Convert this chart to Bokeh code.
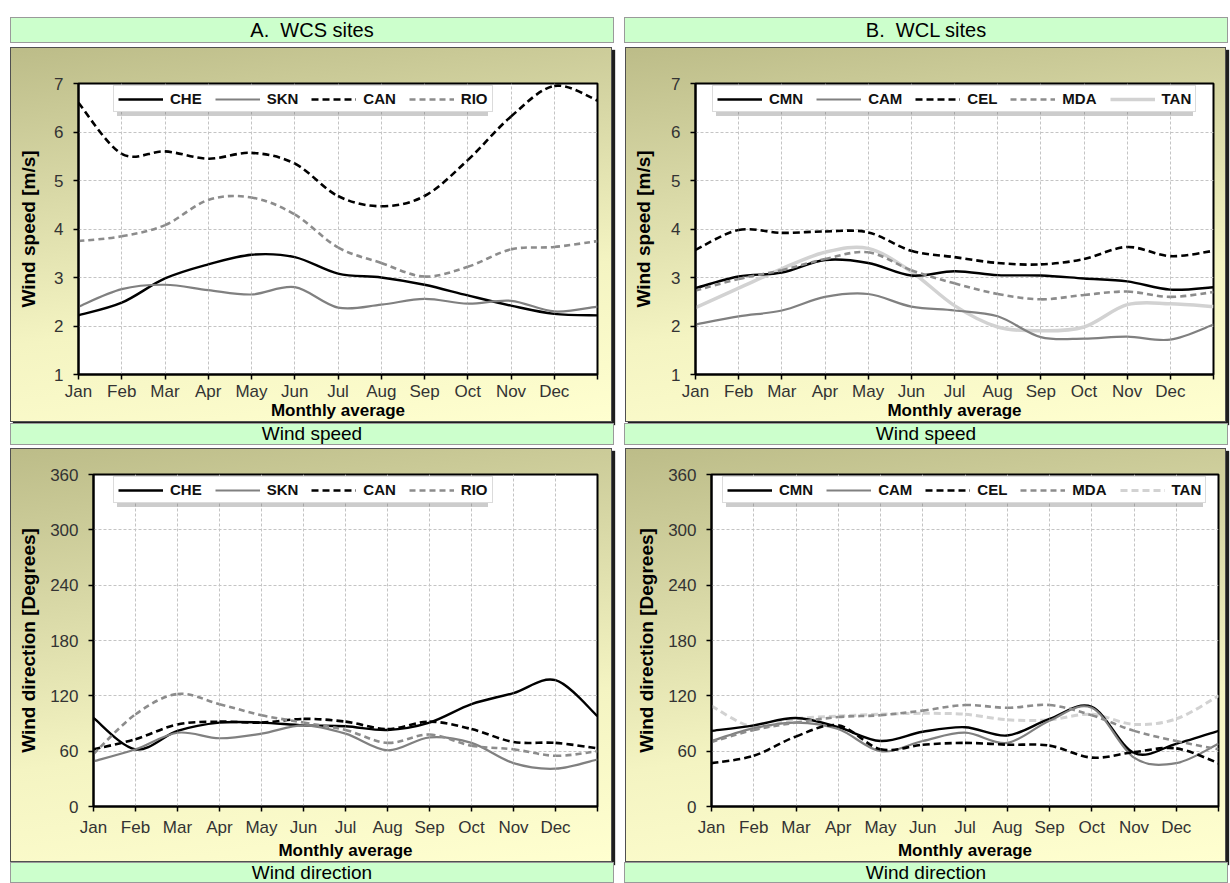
from bokeh.plotting import figure
from bokeh.layouts import column, row
from bokeh.models import Div, Legend, LegendItem, FixedTicker, Range1d, ColumnDataSource
from bokeh.embed import file_html
from bokeh.resources import INLINE

# ---------------------------------------------------------------- data
MONTHS = ["Jan", "Feb", "Mar", "Apr", "May", "Jun",
          "Jul", "Aug", "Sep", "Oct", "Nov", "Dec"]
# month positions on the x axis; the 13th point closes the year (January again)
MONTH_POS = list(range(13))

# monthly mean wind speed [m/s] - WCS sites
che_speed = [2.22, 2.48, 2.98, 3.27, 3.47, 3.42, 3.08, 3.00, 2.85, 2.63, 2.42, 2.25, 2.22]
skn_speed = [2.40, 2.76, 2.85, 2.74, 2.65, 2.80, 2.38, 2.44, 2.56, 2.46, 2.52, 2.30, 2.40]
can_speed = [6.60, 5.55, 5.60, 5.45, 5.57, 5.35, 4.68, 4.47, 4.68, 5.42, 6.32, 6.95, 6.65]
rio_speed = [3.75, 3.85, 4.08, 4.60, 4.65, 4.30, 3.62, 3.30, 3.02, 3.22, 3.58, 3.63, 3.75]

# monthly mean wind speed [m/s] - WCL sites
cmn_speed = [2.78, 3.02, 3.10, 3.36, 3.30, 3.04, 3.13, 3.05, 3.04, 2.98, 2.92, 2.75, 2.80]
cam_speed = [2.03, 2.20, 2.32, 2.60, 2.66, 2.40, 2.32, 2.20, 1.77, 1.74, 1.78, 1.72, 2.03]
cel_speed = [3.57, 3.98, 3.92, 3.95, 3.93, 3.55, 3.42, 3.30, 3.27, 3.38, 3.63, 3.44, 3.55]
mda_speed = [2.73, 2.97, 3.15, 3.38, 3.52, 3.15, 2.88, 2.66, 2.55, 2.64, 2.71, 2.60, 2.70]
tan_speed = [2.38, 2.78, 3.18, 3.52, 3.60, 3.12, 2.42, 1.98, 1.90, 1.98, 2.44, 2.46, 2.40]

# monthly mean wind direction [degrees] - WCS sites
che_dir = [96, 62, 82, 91, 91, 88, 87, 83, 91, 111, 123, 137, 98]
skn_dir = [49, 62, 80, 74, 79, 88, 79, 61, 75, 69, 47, 41, 51]
can_dir = [62, 73, 89, 92, 91, 95, 92, 84, 92, 84, 70, 69, 63]
rio_dir = [57, 100, 122, 111, 99, 91, 83, 69, 78, 66, 62, 55, 60]

# monthly mean wind direction [degrees] - WCL sites
cmn_dir = [82, 88, 96, 86, 71, 81, 86, 77, 95, 108, 58, 68, 82]
cam_dir = [71, 85, 91, 84, 60, 71, 80, 69, 93, 107, 53, 47, 68]
cel_dir = [47, 55, 76, 88, 62, 67, 69, 67, 66, 53, 59, 63, 47]
mda_dir = [70, 83, 91, 97, 99, 104, 110, 107, 110, 99, 82, 71, 62]
tan_dir = [109, 86, 95, 98, 100, 101, 100, 94, 94, 100, 89, 95, 120]

SPEED_TICKS = [1, 2, 3, 4, 5, 6, 7]
DIR_TICKS = [0, 60, 120, 180, 240, 300, 360]

# ---------------------------------------------------------------- styles
LINE_STYLE = {
    "CHE": dict(color="#000000", width=2.4, dash="solid"),
    "SKN": dict(color="#808080", width=2.2, dash="solid"),
    "CAN": dict(color="#000000", width=2.6, dash="7 4"),
    "RIO": dict(color="#8c8c8c", width=2.6, dash="6 4"),
    "CMN": dict(color="#000000", width=2.4, dash="solid"),
    "CAM": dict(color="#808080", width=2.2, dash="solid"),
    "CEL": dict(color="#000000", width=2.6, dash="7 4"),
    "MDA": dict(color="#8c8c8c", width=2.6, dash="6 4"),
    "TAN": dict(color="#d2d2d2", width=3.5, dash="solid"),
}
TAN_DIR_STYLE = dict(color="#d2d2d2", width=3.0, dash="7 4")

FONT = "Liberation Sans"


def band_style(size_px, h):
    return {
        "background-color": "#ccffcc",
        "box-shadow": "inset 0 0 0 1px #9a9a9a",
        "font-family": "Liberation Sans, Arial, sans-serif",
        "font-size": f"{size_px}px",
        "color": "#000000",
        "text-align": "center",
        "line-height": f"{h}px",
        "overflow": "hidden",
    }


CHART_STYLE = {
    "background": "linear-gradient(172deg, #bcbc88 0%, #d6d6a4 30%, #f4f4c2 65%, #ffffd0 100%)",
    "box-shadow": "inset 0 0 0 1px #505050, 3px 3px 1px #1e1e1e",
}

LEGEND_KW = dict(orientation="horizontal", glyph_width=45, glyph_height=16, label_height=16,
                 label_standoff=7, spacing=13, padding=4, margin=0,
                 label_text_font=FONT, label_text_font_size="15px",
                 label_text_font_style="bold")


def smooth_segments(xs, ys):
    """Cubic Bezier pieces through the monthly points (smoothed-line look)."""
    n = len(xs)
    seg = {k: [] for k in ("x0", "y0", "x1", "y1", "cx0", "cy0", "cx1", "cy1")}
    for i in range(n - 1):
        xp, yp = (xs[i - 1], ys[i - 1]) if i > 0 else (xs[i], ys[i])
        xn, yn = (xs[i + 2], ys[i + 2]) if i + 2 < n else (xs[i + 1], ys[i + 1])
        seg["x0"].append(xs[i]); seg["y0"].append(ys[i])
        seg["x1"].append(xs[i + 1]); seg["y1"].append(ys[i + 1])
        seg["cx0"].append(xs[i] + (xs[i + 1] - xp) / 6.0)
        seg["cy0"].append(ys[i] + (ys[i + 1] - yp) / 6.0)
        seg["cx1"].append(xs[i + 1] - (xn - xs[i]) / 6.0)
        seg["cy1"].append(ys[i + 1] - (yn - ys[i]) / 6.0)
    return seg


def make_chart(series, styles, y_lo, y_hi, y_ticks, y_title, width, height,
               borders, legend_offset, y_title_standoff, x_standoffs,
               shadow_label_width, first_drawn=None):
    left, right, top, bottom = borders
    p = figure(width=width, height=height, output_backend="svg", toolbar_location=None,
               x_range=Range1d(0, 12), y_range=Range1d(y_lo, y_hi),
               min_border_left=left, min_border_right=right,
               min_border_top=top, min_border_bottom=bottom,
               styles=CHART_STYLE)
    p.border_fill_alpha = 0
    p.background_fill_color = "#ffffff"
    p.outline_line_color = "#000000"
    p.outline_line_width = 2

    p.xaxis.ticker = FixedTicker(ticks=MONTH_POS)
    p.xaxis.major_label_overrides = {i: (MONTHS[i] if i < 12 else "") for i in MONTH_POS}
    p.yaxis.ticker = FixedTicker(ticks=y_ticks)
    p.xgrid.ticker = FixedTicker(ticks=MONTH_POS)
    p.ygrid.ticker = FixedTicker(ticks=y_ticks)
    for g in (p.xgrid, p.ygrid):
        g.grid_line_color = "#c4c4c4"
        g.grid_line_dash = "3 2"
        g.grid_line_width = 1

    for ax in (p.xaxis, p.yaxis):
        ax.axis_line_color = "#000000"
        ax.axis_line_width = 2
        ax.major_tick_line_color = "#000000"
        ax.major_tick_line_width = 1.5
        ax.major_tick_out = 5
        ax.major_tick_in = 0
        ax.minor_tick_line_color = None
        ax.major_label_text_font = FONT
        ax.major_label_text_font_size = "17px"
        ax.major_label_text_color = "#333333"
        ax.axis_label_text_font = FONT
        ax.axis_label_text_font_style = "bold"
        ax.axis_label_text_color = "#000000"
    p.yaxis.major_label_standoff = 10
    p.xaxis.major_label_standoff = x_standoffs[0]
    p.xaxis.axis_label = "Monthly average"
    p.xaxis.axis_label_text_font_size = "17px"
    p.xaxis.axis_label_standoff = x_standoffs[1]
    p.yaxis.axis_label = y_title
    p.yaxis.axis_label_text_font_size = "19px"
    p.yaxis.axis_label_standoff = y_title_standoff

    order = list(series)
    if first_drawn is not None:
        order = [s for s in series if s[0] == first_drawn] + [s for s in series if s[0] != first_drawn]
    renderers = {}
    for name, values in order:
        st = styles[name]
        src = ColumnDataSource(smooth_segments(MONTH_POS, values))
        renderers[name] = p.bezier(x0="x0", y0="y0", x1="x1", y1="y1",
                                   cx0="cx0", cy0="cy0", cx1="cx1", cy1="cy1",
                                   source=src, line_color=st["color"],
                                   line_width=st["width"], line_dash=st["dash"])

    frame_h = height - top - bottom
    legend_h = 24
    lx, ly = legend_offset[0], frame_h - legend_offset[1] - legend_h

    # soft drop shadow under the legend box: a blank legend of about the same size
    ghost_src = ColumnDataSource(smooth_segments(MONTH_POS, series[0][1]))
    ghost = p.bezier(x0="x0", y0="y0", x1="x1", y1="y1",
                     cx0="cx0", cy0="cy0", cx1="cx1", cy1="cy1",
                     source=ghost_src, line_alpha=0)
    shadow = Legend(items=[LegendItem(label="", renderers=[ghost]) for _ in series],
                    location=(lx + 4, ly - 4), label_width=shadow_label_width,
                    background_fill_color="#6e6e6e", background_fill_alpha=0.35,
                    border_line_color=None, **LEGEND_KW)
    p.add_layout(shadow)

    legend = Legend(items=[LegendItem(label=name, renderers=[renderers[name]])
                           for name, _ in series],
                    location=(lx, ly), label_text_color="#111111",
                    background_fill_color="#ffffff", background_fill_alpha=1.0,
                    border_line_color="#b8b8b8", border_line_width=1, **LEGEND_KW)
    p.add_layout(legend)
    return p


wcs_speed = [("CHE", che_speed), ("SKN", skn_speed), ("CAN", can_speed), ("RIO", rio_speed)]
wcl_speed = [("CMN", cmn_speed), ("CAM", cam_speed), ("CEL", cel_speed),
             ("MDA", mda_speed), ("TAN", tan_speed)]
wcs_dir = [("CHE", che_dir), ("SKN", skn_dir), ("CAN", can_dir), ("RIO", rio_dir)]
wcl_dir = [("CMN", cmn_dir), ("CAM", cam_dir), ("CEL", cel_dir),
           ("MDA", mda_dir), ("TAN", tan_dir)]

dir_styles = dict(LINE_STYLE)
dir_styles["TAN"] = TAN_DIR_STYLE

# speed charts: 375 px tall; direction charts: 414 px tall (taller plot frame)
a1 = make_chart(wcs_speed, LINE_STYLE, 1, 7, SPEED_TICKS, "Wind speed [m/s]",
                602, 375, (68, 15, 36, 48), (35, 5), 12, (2, -3), 31)
b1 = make_chart(wcl_speed, LINE_STYLE, 1, 7, SPEED_TICKS, "Wind speed [m/s]",
                601, 375, (70, 13, 36, 48), (17, 5), 14, (2, -3), 33, first_drawn="TAN")
a2 = make_chart(wcs_dir, dir_styles, 0, 360, DIR_TICKS, "Wind direction [Degrees]",
                602, 414, (83, 15, 26, 56), (20, 5), 8, (6, 1), 31)
b2 = make_chart(wcl_dir, dir_styles, 0, 360, DIR_TICKS, "Wind direction [Degrees]",
                601, 414, (86, 8, 26, 56), (11, 5), 8, (6, 1), 33, first_drawn="TAN")


def band(text, h, size_px):
    return Div(text=text, width=604, height=h, margin=0, styles=band_style(size_px, h))


header = row(band("A.&nbsp; WCS sites", 26, 20), band("B.&nbsp; WCL sites", 26, 20),
             spacing=10, margin=(17, 0, 0, 10))
charts1 = row(a1, b1, spacing=13, margin=(4, 0, 0, 10))
caption1 = row(band("Wind speed", 22, 19), band("Wind speed", 22, 19),
               spacing=10, margin=(1, 0, 0, 10))
charts2 = row(a2, b2, spacing=13, margin=(3, 0, 0, 10))
caption2 = row(band("Wind direction", 21, 19), band("Wind direction", 21, 19),
               spacing=10, margin=(0, 0, 0, 10))

page = column(header, charts1, caption1, charts2, caption2, spacing=0)

open("out.html", "w").write(file_html(page, INLINE))
